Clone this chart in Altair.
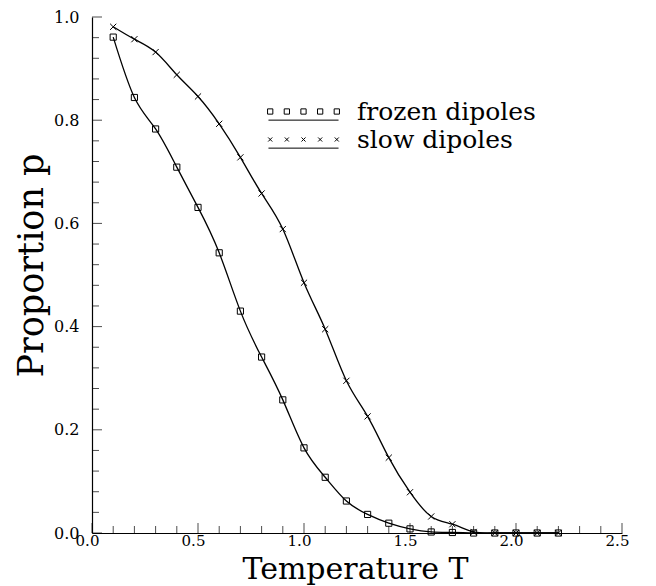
import altair as alt
import pandas as pd

# ---- data ----
T = [0.1, 0.2, 0.3, 0.4, 0.5, 0.6, 0.7, 0.8, 0.9, 1.0, 1.1,
     1.2, 1.3, 1.4, 1.5, 1.6, 1.7, 1.8, 1.9, 2.0, 2.1, 2.2]
frozen = [0.961, 0.844, 0.783, 0.709, 0.631, 0.543, 0.430, 0.341, 0.258, 0.165, 0.108,
          0.062, 0.036, 0.019, 0.008, 0.002, 0.001, 0.0, 0.0, 0.0, 0.0, 0.0]
slow = [0.981, 0.957, 0.932, 0.888, 0.846, 0.793, 0.728, 0.658, 0.589, 0.485, 0.395,
        0.295, 0.226, 0.146, 0.079, 0.032, 0.017, 0.002, 0.0, 0.0, 0.0, 0.0]
series_names = ["frozen dipoles", "slow dipoles"]

x_major = [0.0, 0.5, 1.0, 1.5, 2.0, 2.5]
x_minor = [0.1, 0.2, 0.3, 0.4, 0.6, 0.7, 0.8, 0.9, 1.1, 1.2, 1.3, 1.4,
           1.6, 1.7, 1.8, 1.9, 2.1, 2.2, 2.3, 2.4]
y_major = [0.0, 0.2, 0.4, 0.6, 0.8, 1.0]
y_minor = [0.04, 0.08, 0.12, 0.16, 0.24, 0.28, 0.32, 0.36, 0.44, 0.48, 0.52, 0.56,
           0.64, 0.68, 0.72, 0.76, 0.84, 0.88, 0.92, 0.96]

rows = []
for name, vals in zip(series_names, [frozen, slow]):
    for t, v in zip(T, vals):
        rows.append({"T": t, "p": v, "series": name})
df = pd.DataFrame(rows)

FONT = "DejaVu Serif"

# marker shapes
cross_path = "M-1,-1L1,1M-1,1L1,-1"


def legend_path(kind):
    xs = [-2.775, -1.3875, 0.0, 1.3875, 2.775]
    parts = []
    for cx in xs:
        if kind == "square":
            h = 0.22
            parts.append(f"M{cx-h:.3f},{-h:.3f}L{cx+h:.3f},{-h:.3f}L{cx+h:.3f},{h:.3f}L{cx-h:.3f},{h:.3f}Z")
        else:
            h = 0.17
            parts.append(f"M{cx-h:.3f},{-h:.3f}L{cx+h:.3f},{h:.3f}M{cx-h:.3f},{h:.3f}L{cx+h:.3f},{-h:.3f}")
    parts.append("M-2.92,0.72L2.92,0.72")
    return "".join(parts)


x_scale = alt.Scale(domain=[0, 2.5], nice=False, zero=False)
y_scale = alt.Scale(domain=[0, 1], nice=False, zero=False)

main_x_axis = alt.Axis(values=x_major, format=".1f", title="Temperature T",
                       ticks=False, tickSize=0, grid=False,
                       labelFont=FONT, labelFontSize=15, labelColor="black",
                       labelPadding=0, labelOffset=-5, labelFlush=False,
                       titleFont=FONT, titleFontSize=30, titleFontWeight="normal",
                       titleColor="black", titleX=263, titleY=45,
                       titleBaseline="alphabetic", titleAlign="center",
                       domainColor="black", domainWidth=1.2)
main_y_axis = alt.Axis(values=y_major, format=".1f", title="Proportion p",
                       ticks=False, tickSize=0, grid=False,
                       labelFont=FONT, labelFontSize=16, labelColor="black",
                       labelPadding=13, labelFlush=False,
                       titleFont=FONT, titleFontSize=35, titleFontWeight="normal",
                       titleColor="black", titleX=-50, titleY=248, titleAngle=270,
                       titleBaseline="alphabetic", titleAlign="center",
                       domainColor="black", domainWidth=1.2)

base = alt.Chart(df)

lines = base.mark_line(color="black", strokeWidth=1.3, interpolate="natural").encode(
    x=alt.X("T:Q", scale=x_scale, axis=main_x_axis),
    y=alt.Y("p:Q", scale=y_scale, axis=main_y_axis),
    detail="series:N",
)

points = base.mark_point(color="black", filled=False, size=38, strokeWidth=1, opacity=1).encode(
    x=alt.X("T:Q", scale=x_scale, axis=None),
    y=alt.Y("p:Q", scale=y_scale, axis=None),
    shape=alt.Shape("series:N",
                    scale=alt.Scale(domain=series_names, range=["square", cross_path]),
                    legend=None),
)

legend_layer = base.mark_point(color="black", filled=False, opacity=0, strokeWidth=1).encode(
    x=alt.X("T:Q", scale=x_scale, axis=None),
    y=alt.Y("p:Q", scale=y_scale, axis=None),
    shape=alt.Shape("series:N",
                    scale=alt.Scale(domain=series_names,
                                    range=[legend_path("square"), legend_path("cross")]),
                    legend=alt.Legend(title=None, orient="none", legendX=199, legendY=82,
                                      padding=0, symbolSize=576, symbolStrokeWidth=1,
                                      symbolStrokeColor="black", symbolFillColor="transparent",
                                      symbolOpacity=1, labelFont=FONT, labelFontSize=25,
                                      labelColor="black", labelOffset=41, labelLimit=400,
                                      rowPadding=2)),
)


def x_ticks(values, length):
    return alt.Chart(pd.DataFrame({"v": values})).mark_tick(
        orient="vertical", size=length, thickness=1, color="black", yOffset=-length / 2
    ).encode(
        x=alt.X("v:Q", scale=x_scale, axis=None),
        y=alt.YDatum(0, type="quantitative", scale=y_scale, axis=None),
    )


def y_ticks(values, length):
    return alt.Chart(pd.DataFrame({"v": values})).mark_tick(
        orient="horizontal", size=length, thickness=1, color="black", xOffset=length / 2
    ).encode(
        y=alt.Y("v:Q", scale=y_scale, axis=None),
        x=alt.XDatum(0, type="quantitative", scale=x_scale, axis=None),
    )


chart = alt.layer(
    lines, points, legend_layer,
    x_ticks(x_major, 10), x_ticks(x_minor, 7),
    y_ticks(y_major, 10), y_ticks(y_minor, 7),
).resolve_scale(
    shape="independent"
).resolve_axis(
    x="independent", y="independent"
).resolve_legend(
    shape="independent"
).properties(
    width=530, height=516,
    autosize=alt.AutoSizeParams(type="none"),
    padding={"left": 84, "top": 9, "right": 26, "bottom": 53},
    background="white",
).configure_view(stroke=None)

chart.save("out.html", embed_options={"renderer": "svg", "actions": False})
